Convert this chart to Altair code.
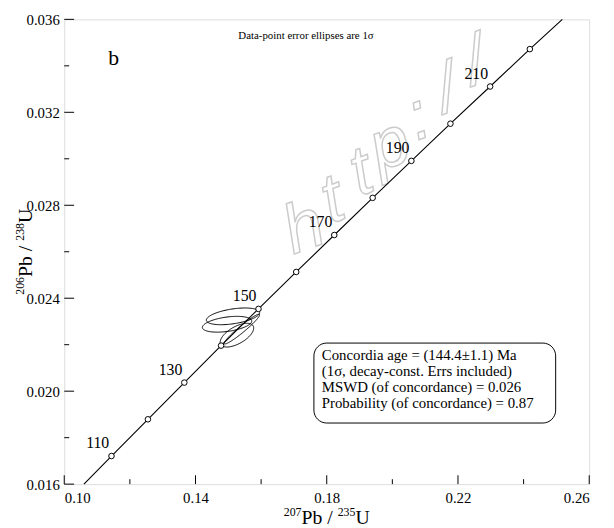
import altair as alt
import pandas as pd
import numpy as np

# Concordia ages and their ratios (207Pb/235U, 206Pb/238U)
ages = [110, 120, 130, 140, 150, 160, 170, 180, 190, 200, 210, 220]
conc_x = [0.1144, 0.1255, 0.1366, 0.1478, 0.1592, 0.1707, 0.1823, 0.1940, 0.2058, 0.2177, 0.2298, 0.2419]
conc_y = [0.01721, 0.01879, 0.02037, 0.02196, 0.02354, 0.02513, 0.02672, 0.02832, 0.02991, 0.03151, 0.03311, 0.03472]
# ends of the drawn curve
curve_start = [0.1060, 0.0160]
curve_end = [0.2518, 0.0360]
label_ages = [110, 130, 150, 170, 190, 210]

# error ellipses: centre, half extents and correlation
ell_cx = [0.15143, 0.14962, 0.15263, 0.15414]
ell_cy = [0.02322, 0.02288, 0.02241, 0.02267]
ell_sx = [0.00812, 0.00752, 0.00511, 0.00541]
ell_sy = [0.00036, 0.00034, 0.00051, 0.00064]
ell_rho = [0.45, 0.40, 0.60, 0.96]

x_major = [0.10, 0.14, 0.18, 0.22, 0.26]
x_minor = [0.12, 0.16, 0.20, 0.24]
y_major = [0.016, 0.020, 0.024, 0.028, 0.032, 0.036]
y_minor = [0.018, 0.022, 0.026, 0.030, 0.034]

box_lines = [
    "Concordia age = (144.4\u00b11.1) Ma",
    "(1\u03c3, decay-const. Errs included)",
    "MSWD (of concordance) = 0.026",
    "Probability (of concordance) = 0.87",
]
box_line_y = [0.02156, 0.02088, 0.02016, 0.01948]
box_x = [0.17609, 0.24977]
box_y = [0.01863, 0.02207]
box_text_x = 0.1785

# axis title pieces: (text, is_superscript)
x_title = [("207", True), ("Pb / ", False), ("235", True), ("U", False)]
y_title = [("206", True), ("Pb / ", False), ("238", True), ("U", False)]

# faint watermark of the source image, one glyph at a time along a diagonal
watermark_chars = ["h", "t", "t", "p", ":", "/", "/"]
watermark_start = [0.1731, 0.0270]
watermark_step = [0.00872, 0.00119]

FONT = "Liberation Serif"
W, H = 532, 471
BIG, SMALL = 20, 12

xs = alt.Scale(domain=[0.10, 0.26], nice=False, zero=False)
ys = alt.Scale(domain=[0.016, 0.036], nice=False, zero=False)

curve_df = pd.DataFrame({
    "x": [curve_start[0]] + conc_x + [curve_end[0]],
    "y": [curve_start[1]] + conc_y + [curve_end[1]],
    "o": list(range(len(conc_x) + 2)),
})
pts_df = pd.DataFrame({"age": ages, "x": conc_x, "y": conc_y})
lab_df = pts_df[pts_df["age"].isin(label_ages)]

rows = []
t = np.linspace(0, 2 * np.pi, 145)
for i in range(len(ell_cx)):
    ex = ell_cx[i] + ell_sx[i] * np.cos(t)
    ey = ell_cy[i] + ell_sy[i] * (ell_rho[i] * np.cos(t) + np.sqrt(1 - ell_rho[i] ** 2) * np.sin(t))
    for k in range(len(t)):
        rows.append({"id": i, "o": k, "x": ex[k], "y": ey[k]})
ell_df = pd.DataFrame(rows)

wm_df = pd.DataFrame({
    "t": watermark_chars,
    "x": [watermark_start[0] + i * watermark_step[0] for i in range(len(watermark_chars))],
    "y": [watermark_start[1] + i * watermark_step[1] for i in range(len(watermark_chars))],
})

X = alt.X("x:Q", scale=xs, axis=alt.Axis(
    values=x_major, format=".2f", ticks=False, domain=False, grid=False,
    labelFont=FONT, labelFontSize=15, labelColor="black", labelPadding=7, title=""))
Y = alt.Y("y:Q", scale=ys, axis=alt.Axis(
    values=y_major, format=".3f", ticks=False, domain=False, grid=False,
    labelFont=FONT, labelFontSize=15, labelColor="black", labelPadding=5, title=""))

wm = alt.Chart(wm_df).mark_text(
    font="Liberation Sans", fontSize=70, fontStyle="italic", angle=340, baseline="middle",
    fill="white", fillOpacity=0, stroke="#cccccc", strokeWidth=1.5).encode(
    x=alt.X("x:Q", scale=xs), y=alt.Y("y:Q", scale=ys), text="t:N")

curve = alt.Chart(curve_df).mark_line(color="black", strokeWidth=1.1).encode(
    x=X, y=Y, order="o:Q")

ellipses = alt.Chart(ell_df).mark_line(color="black", strokeWidth=1).encode(
    x=alt.X("x:Q", scale=xs), y=alt.Y("y:Q", scale=ys), detail="id:N", order="o:Q")

points = alt.Chart(pts_df).mark_point(shape="circle", size=32, filled=True, fill="white",
                                      stroke="black", strokeWidth=1, opacity=1).encode(
    x=alt.X("x:Q", scale=xs), y=alt.Y("y:Q", scale=ys))

labels = alt.Chart(lab_df).mark_text(font=FONT, fontSize=16, dx=-14, dy=-13,
                                      color="black").encode(
    x=alt.X("x:Q", scale=xs), y=alt.Y("y:Q", scale=ys), text="age:N")

xt_major = alt.Chart(pd.DataFrame({"v": x_major})).mark_rule(color="black", strokeWidth=1).encode(
    x=alt.X("v:Q", scale=xs), y=alt.value(H), y2=alt.value(H - 9))
xt_minor = alt.Chart(pd.DataFrame({"v": x_minor})).mark_rule(color="black", strokeWidth=1).encode(
    x=alt.X("v:Q", scale=xs), y=alt.value(H), y2=alt.value(H - 5))
yt_major = alt.Chart(pd.DataFrame({"v": y_major})).mark_rule(color="black", strokeWidth=1).encode(
    y=alt.Y("v:Q", scale=ys), x=alt.value(0), x2=alt.value(10))
yt_minor = alt.Chart(pd.DataFrame({"v": y_minor})).mark_rule(color="black", strokeWidth=1).encode(
    y=alt.Y("v:Q", scale=ys), x=alt.value(0), x2=alt.value(5))

box = alt.Chart(pd.DataFrame({"x": [box_x[0]], "x2": [box_x[1]], "y": [box_y[0]], "y2": [box_y[1]]})).mark_rect(
    fill="white", stroke="black", strokeWidth=1, cornerRadius=13).encode(
    x=alt.X("x:Q", scale=xs), x2="x2:Q", y=alt.Y("y:Q", scale=ys), y2="y2:Q")

box_txt = alt.Chart(pd.DataFrame({"t": box_lines, "y": box_line_y, "x": [box_text_x] * 4})).mark_text(
    font=FONT, fontSize=15, align="left", baseline="middle", color="black").encode(
    x=alt.X("x:Q", scale=xs), y=alt.Y("y:Q", scale=ys), text="t:N")

panel = alt.Chart(pd.DataFrame({"t": ["b"], "x": [0.11504], "y": [0.03434]})).mark_text(
    font=FONT, fontSize=22, color="black", baseline="middle").encode(
    x=alt.X("x:Q", scale=xs), y=alt.Y("y:Q", scale=ys), text="t:N")

note = alt.Chart(pd.DataFrame({"t": ["Data-point error ellipses are 1\u03c3"], "x": [0.17368], "y": [0.03528]})).mark_text(
    font=FONT, fontSize=11, color="black", baseline="middle").encode(
    x=alt.X("x:Q", scale=xs), y=alt.Y("y:Q", scale=ys), text="t:N")


def piece_width(s, size):
    em = {"P": 0.556, "b": 0.5, " ": 0.25, "/": 0.278, "U": 0.722}
    return sum(em.get(c, 0.5) for c in s) * size


def title_layers(pieces, horizontal):
    total = sum(piece_width(s, SMALL if sup else BIG) for s, sup in pieces)
    layers = []
    if horizontal:
        pos = W / 2 - total / 2
        base = H + 40
    else:
        pos = H / 2 + total / 2
        base = -33
    for s, sup in pieces:
        size = SMALL if sup else BIG
        w = piece_width(s, size)
        if horizontal:
            enc = dict(x=alt.value(pos), y=alt.value(base - (8 if sup else 0)))
            ang = 0
            pos += w
        else:
            enc = dict(x=alt.value(base - (8 if sup else 0)), y=alt.value(pos))
            ang = 270
            pos -= w
        layers.append(alt.Chart(pd.DataFrame({"t": [s]})).mark_text(
            font=FONT, fontSize=size, align="left", baseline="alphabetic",
            angle=ang, color="black").encode(text="t:N", **enc))
    return layers


chart = alt.layer(
    wm, curve, ellipses, points, labels, xt_major, xt_minor, yt_major, yt_minor,
    box, box_txt, panel, note,
    *title_layers(x_title, True), *title_layers(y_title, False)
).properties(
    width=W, height=H,
    autosize=alt.AutoSizeParams(type="none"),
    padding={"left": 57, "top": 8, "right": 17, "bottom": 45},
).configure_view(stroke="black", strokeWidth=1.2).configure(background="white")

chart.save("out.html", embed_options={"renderer": "svg", "actions": False})
